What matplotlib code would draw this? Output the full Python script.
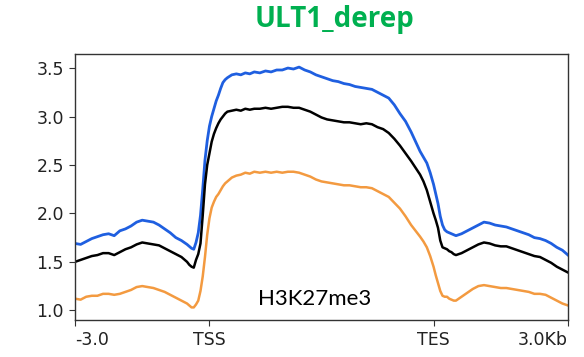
import numpy as np
import matplotlib
matplotlib.use('Agg')
import matplotlib.pyplot as plt

plt.rcParams['font.family'] = 'DejaVu Sans'

# positions in bp: -3000..0 upstream, 0..5000 scaled body, 5000..8000 downstream
pos = [-3000, -2875, -2750, -2625, -2500, -2375, -2250, -2125, -2000, -1875,
       -1750, -1625, -1500, -1375, -1250, -1125, -1000, -875, -750, -625, -500,
       -450, -400, -350, -300, -250, -200, -150, -100, -50,
       0, 50, 100, 150, 200, 250, 300, 350, 400,
       500, 600, 700, 800, 900, 1000,
       1125, 1250, 1375, 1500, 1625, 1750, 1875, 2000, 2125, 2250,
       2375, 2500, 2625, 2750, 2875, 3000, 3125, 3250, 3375, 3500,
       3625, 3750, 3875, 4000, 4125, 4250, 4375, 4500,
       4600, 4700, 4775, 4850, 4925, 5000, 5050, 5100, 5150, 5200,
       5250, 5300, 5350, 5400, 5450, 5500,
       5625, 5750, 5875, 6000, 6125, 6250, 6375, 6500, 6625, 6750,
       6875, 7000, 7125, 7250, 7375, 7500, 7625, 7750, 7875, 8000]

blue = [1.69, 1.68, 1.71, 1.74, 1.76, 1.78, 1.79, 1.77, 1.82, 1.84,
        1.87, 1.91, 1.93, 1.92, 1.91, 1.88, 1.84, 1.80, 1.75, 1.72, 1.68,
        1.66, 1.64, 1.63, 1.70, 1.80, 1.98, 2.25, 2.55, 2.75,
        2.90, 3.00, 3.08, 3.16, 3.22, 3.29, 3.35, 3.38, 3.40,
        3.43, 3.44, 3.43, 3.45, 3.44, 3.46,
        3.45, 3.47, 3.46, 3.48, 3.48, 3.50, 3.49, 3.51, 3.48, 3.46,
        3.43, 3.41, 3.39, 3.37, 3.36, 3.34, 3.33, 3.31, 3.30, 3.29,
        3.28, 3.25, 3.22, 3.19, 3.12, 3.03, 2.95, 2.84,
        2.74, 2.64, 2.58, 2.52, 2.42, 2.30, 2.20, 2.10, 1.97, 1.88,
        1.83, 1.81, 1.80, 1.79, 1.78, 1.77,
        1.79, 1.82, 1.85, 1.88, 1.91, 1.90, 1.88, 1.87, 1.86, 1.84,
        1.82, 1.80, 1.78, 1.75, 1.74, 1.72, 1.69, 1.65, 1.62, 1.57]

black = [1.50, 1.52, 1.54, 1.56, 1.57, 1.59, 1.59, 1.57, 1.60, 1.63,
         1.65, 1.68, 1.70, 1.69, 1.68, 1.67, 1.64, 1.61, 1.58, 1.55, 1.50,
         1.47, 1.45, 1.44, 1.52, 1.58, 1.69, 1.98, 2.30, 2.50,
         2.62, 2.74, 2.82, 2.88, 2.93, 2.97, 3.00, 3.03, 3.05,
         3.06, 3.07, 3.06, 3.08, 3.07, 3.08,
         3.08, 3.09, 3.08, 3.09, 3.10, 3.10, 3.09, 3.09, 3.07, 3.05,
         3.02, 2.99, 2.97, 2.96, 2.95, 2.94, 2.94, 2.93, 2.92, 2.93,
         2.92, 2.89, 2.87, 2.83, 2.77, 2.70, 2.62, 2.54,
         2.47, 2.40, 2.33, 2.24, 2.12, 2.00, 1.93, 1.85, 1.72, 1.65,
         1.64, 1.63, 1.61, 1.60, 1.58, 1.57,
         1.59, 1.62, 1.65, 1.68, 1.70, 1.69, 1.67, 1.66, 1.66, 1.64,
         1.62, 1.60, 1.58, 1.56, 1.55, 1.52, 1.49, 1.45, 1.42, 1.39]

orange = [1.12, 1.11, 1.14, 1.15, 1.15, 1.17, 1.17, 1.16, 1.17, 1.19,
          1.21, 1.24, 1.25, 1.24, 1.23, 1.21, 1.19, 1.16, 1.13, 1.10, 1.07,
          1.05, 1.03, 1.03, 1.06, 1.10, 1.20, 1.35, 1.55, 1.78,
          1.95, 2.06, 2.12, 2.17, 2.20, 2.24, 2.28, 2.31, 2.33,
          2.37, 2.39, 2.40, 2.42, 2.41, 2.43,
          2.42, 2.43, 2.42, 2.43, 2.42, 2.43, 2.43, 2.42, 2.40, 2.38,
          2.35, 2.33, 2.32, 2.31, 2.30, 2.29, 2.29, 2.28, 2.27, 2.27,
          2.26, 2.23, 2.20, 2.17, 2.11, 2.05, 1.97, 1.88,
          1.82, 1.76, 1.71, 1.65, 1.56, 1.45, 1.36, 1.28, 1.20, 1.15,
          1.14, 1.14, 1.12, 1.11, 1.10, 1.10,
          1.14, 1.18, 1.22, 1.25, 1.26, 1.25, 1.24, 1.23, 1.23, 1.22,
          1.21, 1.20, 1.19, 1.17, 1.17, 1.16, 1.13, 1.10, 1.07, 1.05]

xticks = [-3000, 0, 5000, 8000]
xticklabels = ['-3.0', 'TSS', 'TES', '3.0Kb']
yticks = [1.0, 1.5, 2.0, 2.5, 3.0, 3.5]

fig = plt.figure(figsize=(5.84, 3.57), dpi=100)
ax = fig.add_axes([75/584, 37/357, 493/584, 266/357])

ax.plot(pos, blue, color='#1f5fe0', lw=2)
ax.plot(pos, black, color='black', lw=1.8)
ax.plot(pos, orange, color='#f39a40', lw=1.8)

ax.set_xlim(-3000, 8000)
ax.set_ylim(0.90, 3.645)
ax.set_xticks(xticks)
ax.set_xticklabels(xticklabels)
ax.set_yticks(yticks)
ax.tick_params(labelsize=12.5, length=4.5, color='#333333', labelcolor='#222222')
# deeptools style: outer labels aligned inward
labs = ax.get_xticklabels()
labs[0].set_ha('left')
labs[-1].set_ha('right')
for s in ax.spines.values():
    s.set_color('#333333')
    s.set_linewidth(1.0)

ax.text(0.487, 0.08, 'H3K27me3', transform=ax.transAxes, ha='center',
        va='center', fontsize=16, family='Lato')

fig.text(0.572, 0.944, 'ULT1_derep', ha='center', va='center', fontsize=20,
         fontweight='bold', color='#00b050', family='Open Sans')

fig.savefig('out.png', dpi=100)
